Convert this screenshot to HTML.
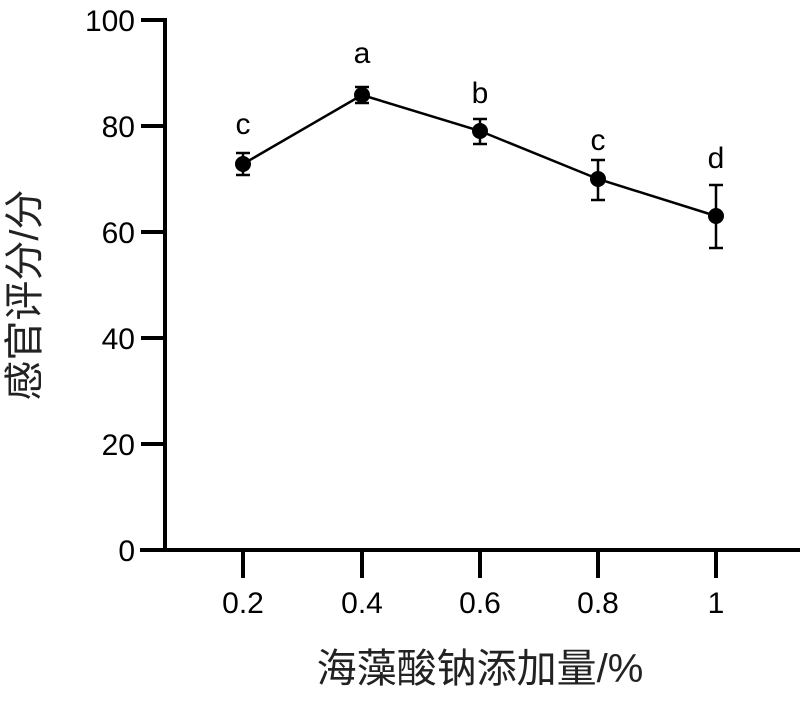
<!DOCTYPE html>
<html><head><meta charset="utf-8"><style>
html,body{margin:0;padding:0;background:#fff;}
</style></head><body>
<svg width="800" height="698" viewBox="0 0 800 698" xmlns="http://www.w3.org/2000/svg" font-family="'Liberation Sans','Noto Sans CJK SC',sans-serif">
<g stroke="#000" stroke-width="4" fill="none">
<line x1="165" y1="18" x2="165" y2="552"/>
<line x1="140" y1="550" x2="800" y2="550"/>
<line x1="141" y1="20" x2="165" y2="20"/>
<line x1="141" y1="126" x2="165" y2="126"/>
<line x1="141" y1="232" x2="165" y2="232"/>
<line x1="141" y1="338" x2="165" y2="338"/>
<line x1="141" y1="444" x2="165" y2="444"/>
<line x1="243" y1="550" x2="243" y2="578"/>
<line x1="362" y1="550" x2="362" y2="578"/>
<line x1="480" y1="550" x2="480" y2="578"/>
<line x1="598" y1="550" x2="598" y2="578"/>
<line x1="716" y1="550" x2="716" y2="578"/>
</g>
<g font-size="30" text-anchor="end" fill="#000">
<text x="135" y="31">100</text><text x="135" y="137">80</text><text x="135" y="243">60</text>
<text x="135" y="349">40</text><text x="135" y="455">20</text><text x="135" y="561">0</text>
</g>
<g font-size="30" text-anchor="middle" fill="#000">
<text x="243" y="613">0.2</text><text x="362" y="613">0.4</text><text x="480" y="613">0.6</text>
<text x="598" y="613">0.8</text><text x="716" y="613">1</text>
<text x="243" y="134">c</text><text x="362" y="63">a</text><text x="480" y="103">b</text>
<text x="598" y="150">c</text><text x="716" y="168">d</text>
</g>
<polyline points="243,164 362,95 480,131 598,179 716,216" stroke="#000" stroke-width="2.5" fill="none"/>
<g stroke="#000" stroke-width="2.5">
<line x1="243" y1="153" x2="243" y2="175"/><line x1="236" y1="153" x2="250" y2="153"/><line x1="236" y1="175" x2="250" y2="175"/>
<line x1="362" y1="87" x2="362" y2="103"/><line x1="355" y1="87" x2="369" y2="87"/><line x1="355" y1="103" x2="369" y2="103"/>
<line x1="480" y1="119" x2="480" y2="144"/><line x1="473" y1="119" x2="487" y2="119"/><line x1="473" y1="144" x2="487" y2="144"/>
<line x1="598" y1="160" x2="598" y2="200"/><line x1="591" y1="160" x2="605" y2="160"/><line x1="591" y1="200" x2="605" y2="200"/>
<line x1="716" y1="185" x2="716" y2="248"/><line x1="709" y1="185" x2="723" y2="185"/><line x1="709" y1="248" x2="723" y2="248"/>
</g>
<g fill="#000">
<circle cx="243" cy="164" r="8"/><circle cx="362" cy="95" r="8"/><circle cx="480" cy="131" r="8"/>
<circle cx="598" cy="179" r="8"/><circle cx="716" cy="216" r="8"/>
</g>
<text x="480" y="682" font-size="40" text-anchor="middle" fill="#222">海藻酸钠添加量/%</text>
<text transform="translate(38,295) rotate(-90)" font-size="40" text-anchor="middle" fill="#222">感官评分/分</text>
</svg>
</body></html>
